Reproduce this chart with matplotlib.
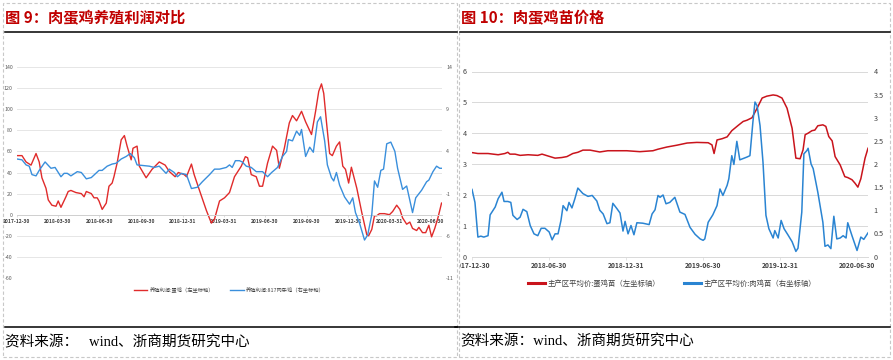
import pandas as pd
import matplotlib
matplotlib.use("Agg")
import matplotlib.pyplot as plt
from matplotlib.lines import Line2D
from matplotlib.patches import Rectangle
from matplotlib.transforms import Bbox

plt.rcParams['font.family'] = ['Noto Sans CJK SC', 'DejaVu Sans']
plt.rcParams['axes.unicode_minus'] = False

# ---- 图9 data: 养殖利润 ----
egg_profit_dates = [
    '2017-12-30', '2018-01-10', '2018-01-19', '2018-01-30', '2018-02-10', '2018-02-17',
    '2018-02-23', '2018-03-04', '2018-03-09', '2018-03-17', '2018-03-26', '2018-03-31',
    '2018-04-06', '2018-04-17', '2018-04-22', '2018-04-28', '2018-05-09', '2018-05-21',
    '2018-05-27', '2018-06-01', '2018-06-12', '2018-06-18', '2018-06-25', '2018-06-29',
    '2018-07-06', '2018-07-15', '2018-07-21', '2018-07-28', '2018-08-01', '2018-08-08',
    '2018-08-17', '2018-08-24', '2018-08-30', '2018-09-08', '2018-09-12', '2018-09-21',
    '2018-09-26', '2018-10-11', '2018-10-24', '2018-11-09', '2018-11-22', '2018-12-01',
    '2018-12-14', '2018-12-21', '2019-01-03', '2019-01-08', '2019-01-19', '2019-01-25',
    '2019-02-05', '2019-02-21', '2019-03-04', '2019-03-11', '2019-03-22', '2019-04-02',
    '2019-04-13', '2019-04-24', '2019-05-09', '2019-05-18', '2019-05-23', '2019-05-31',
    '2019-06-11', '2019-06-18', '2019-06-25', '2019-07-06', '2019-07-17', '2019-07-26',
    '2019-08-01', '2019-08-12', '2019-08-23', '2019-08-30', '2019-09-08', '2019-09-19',
    '2019-09-28', '2019-10-11', '2019-10-20', '2019-10-27', '2019-11-02', '2019-11-07',
    '2019-11-13', '2019-11-20', '2019-11-26', '2019-12-05', '2019-12-12', '2019-12-19',
    '2019-12-25', '2020-01-01', '2020-01-07', '2020-01-19', '2020-01-30', '2020-02-10',
    '2020-02-14', '2020-02-21', '2020-02-27', '2020-03-03', '2020-03-09', '2020-03-20',
    '2020-03-31', '2020-04-07', '2020-04-16', '2020-04-23', '2020-04-29', '2020-05-08',
    '2020-05-15', '2020-05-21', '2020-05-30', '2020-06-04', '2020-06-12', '2020-06-19',
    '2020-06-26', '2020-07-02', '2020-07-09', '2020-07-16', '2020-07-24']
egg_profit = [
    56, 56, 50, 47, 58, 50,
    35, 25, 14, 9, 8, 13,
    7, 17, 22, 23, 21, 20,
    17, 22, 20, 16, 16, 13,
    5, 11, 27, 30, 36, 49,
    71, 75, 65, 52, 63, 65,
    46, 35, 43, 50, 47, 41,
    36, 40, 38, 36, 48, 38,
    24, 4, -8, -4, 13, 16,
    21, 36, 46, 55, 54, 38,
    36, 27, 27, 49, 65, 61,
    44, 63, 87, 94, 89, 98,
    88, 76, 98, 117, 124, 115,
    88, 58, 56, 65, 69, 46,
    43, 30, 45, 25, 2, -19,
    -20, -14, -1, -1, 1, 1,
    0, 3, 9, 5, -3, -9,
    -7, -13, -15, -12, -17, -17,
    -10, -21, -13, -3, 11]

broiler_profit_dates = [
    '2017-12-30', '2018-01-10', '2018-01-19', '2018-01-26', '2018-02-01', '2018-02-10',
    '2018-02-17', '2018-03-02', '2018-03-15', '2018-03-24', '2018-04-06', '2018-04-13',
    '2018-04-20', '2018-04-28', '2018-05-12', '2018-05-21', '2018-06-01', '2018-06-12',
    '2018-06-29', '2018-07-06', '2018-07-17', '2018-07-28', '2018-08-06', '2018-08-17',
    '2018-08-28', '2018-09-06', '2018-09-15', '2018-09-21', '2018-10-18', '2018-10-29',
    '2018-11-09', '2018-11-24', '2018-12-01', '2018-12-12', '2018-12-19', '2018-12-28',
    '2019-01-08', '2019-01-19', '2019-02-01', '2019-02-12', '2019-02-28', '2019-03-11',
    '2019-03-22', '2019-04-06', '2019-04-13', '2019-04-19', '2019-04-26', '2019-05-05',
    '2019-05-11', '2019-05-20', '2019-05-31', '2019-06-11', '2019-06-25', '2019-07-06',
    '2019-07-15', '2019-07-28', '2019-08-08', '2019-08-17', '2019-08-21', '2019-08-30',
    '2019-09-08', '2019-09-15', '2019-09-19', '2019-09-28', '2019-10-07', '2019-10-15',
    '2019-10-24', '2019-10-31', '2019-11-09', '2019-11-15', '2019-11-24', '2019-11-29',
    '2019-12-05', '2019-12-12', '2019-12-23', '2020-01-03', '2020-01-10', '2020-01-16',
    '2020-01-25', '2020-02-05', '2020-02-12', '2020-02-21', '2020-02-27', '2020-03-05',
    '2020-03-12', '2020-03-18', '2020-03-25', '2020-04-03', '2020-04-12', '2020-04-18',
    '2020-04-29', '2020-05-08', '2020-05-21', '2020-05-28', '2020-06-10', '2020-06-21',
    '2020-06-26', '2020-07-05', '2020-07-13', '2020-07-20', '2020-07-24']
broiler_profit = [
    3.1, 3.0, 2.4, 2.25, 1.25, 1.1,
    1.75, 2.75, 2.0, 2.1, 1.0, 1.4,
    1.4, 1.1, 1.6, 1.5, 0.75, 0.9,
    1.75, 1.75, 2.25, 2.5, 2.6, 3.1,
    3.4, 3.75, 3.25, 2.4, 2.25, 2.1,
    2.25, 1.4, 1.9, 1.5, 1.0, 1.4,
    1.25, -0.4, -0.25, 0.4, 1.25, 1.9,
    1.9, 2.1, 2.4, 2.1, 2.9, 2.9,
    2.75, 2.25, 2.1, 1.6, 1.6, 1.0,
    1.5, 2.1, 3.4, 4.0, 5.4, 5.25,
    6.4, 5.9, 6.6, 3.4, 4.5, 3.9,
    7.5, 8.1, 5.25, 2.4, 0.9, 0.5,
    1.5, 0.0, -1.4, -2.25, -1.5, -3.25,
    -4.5, -6.5, -5.9, -3.5, 0.5, -0.25,
    1.75, 1.9, 4.9, 5.1, 4.0, 2.0,
    -0.5, -0.1, -3.25, -1.5, -0.6, 0.4,
    0.6, 1.6, 2.25, 2.0, 2.0]

profit_ticks = ['2017-12-30', '2018-03-30', '2018-06-30', '2018-09-30', '2018-12-31', '2019-03-31',
                '2019-06-30', '2019-09-30', '2019-12-31', '2020-03-31', '2020-06-30']

# ---- 图10 data: 鸡苗价格 ----
layer_chick_dates = [
    '2017-12-30', '2018-01-13', '2018-02-06', '2018-03-02', '2018-03-18', '2018-03-25',
    '2018-03-30', '2018-04-11', '2018-04-23', '2018-05-12', '2018-06-04', '2018-06-14',
    '2018-07-03', '2018-07-15', '2018-07-31', '2018-08-12', '2018-08-26', '2018-09-07',
    '2018-09-19', '2018-10-06', '2018-10-29', '2018-11-17', '2019-01-01', '2019-02-01',
    '2019-03-04', '2019-03-16', '2019-04-06', '2019-04-30', '2019-05-24', '2019-06-16',
    '2019-07-13', '2019-07-22', '2019-07-27', '2019-08-03', '2019-08-15', '2019-08-27',
    '2019-09-07', '2019-09-22', '2019-10-04', '2019-10-13', '2019-10-25', '2019-11-06',
    '2019-11-18', '2019-11-29', '2019-12-14', '2019-12-23', '2020-01-04', '2020-01-16',
    '2020-01-28', '2020-02-06', '2020-02-16', '2020-02-23', '2020-02-28', '2020-03-06',
    '2020-03-15', '2020-03-22', '2020-03-29', '2020-04-10', '2020-04-17', '2020-04-24',
    '2020-05-02', '2020-05-09', '2020-05-21', '2020-06-01', '2020-06-08', '2020-06-18',
    '2020-06-25', '2020-07-02', '2020-07-09', '2020-07-19', '2020-07-26']
layer_chick = [
    3.37, 3.34, 3.34, 3.30, 3.34, 3.38,
    3.32, 3.32, 3.28, 3.30, 3.28, 3.32,
    3.24, 3.19, 3.21, 3.24, 3.34, 3.38,
    3.45, 3.45, 3.39, 3.43, 3.43, 3.40,
    3.43, 3.48, 3.55, 3.61, 3.68, 3.70,
    3.69, 3.62, 3.34, 3.78, 3.82, 3.88,
    4.08, 4.25, 4.38, 4.42, 4.50, 4.81,
    5.14, 5.20, 5.24, 5.22, 5.14, 4.81,
    4.16, 3.19, 3.17, 3.46, 3.95, 4.00,
    4.08, 4.10, 4.24, 4.27, 4.22, 3.89,
    3.75, 3.24, 2.97, 2.59, 2.56, 2.49,
    2.38, 2.25, 2.52, 3.19, 3.51]

broiler_chick_dates = [
    '2017-12-30', '2018-01-06', '2018-01-13', '2018-01-20', '2018-01-27', '2018-02-06',
    '2018-02-11', '2018-02-23', '2018-03-02', '2018-03-11', '2018-03-16', '2018-03-25',
    '2018-04-01', '2018-04-06', '2018-04-16', '2018-04-23', '2018-04-30', '2018-05-09',
    '2018-05-17', '2018-05-26', '2018-06-04', '2018-06-12', '2018-06-21', '2018-07-01',
    '2018-07-08', '2018-07-15', '2018-07-22', '2018-07-29', '2018-08-03', '2018-08-12',
    '2018-08-17', '2018-08-24', '2018-08-31', '2018-09-07', '2018-09-19', '2018-10-01',
    '2018-10-11', '2018-10-22', '2018-10-29', '2018-11-06', '2018-11-15', '2018-11-22',
    '2018-11-29', '2018-12-09', '2018-12-16', '2018-12-23', '2018-12-28', '2019-01-04',
    '2019-01-11', '2019-01-18', '2019-01-25', '2019-02-08', '2019-02-23', '2019-03-02',
    '2019-03-09', '2019-03-16', '2019-03-21', '2019-03-28', '2019-04-04', '2019-04-13',
    '2019-04-25', '2019-05-07', '2019-05-19', '2019-05-31', '2019-06-12', '2019-06-24',
    '2019-07-01', '2019-07-05', '2019-07-13', '2019-07-24', '2019-08-03', '2019-08-10',
    '2019-08-17', '2019-08-27', '2019-08-31', '2019-09-07', '2019-09-12', '2019-09-19',
    '2019-09-26', '2019-10-13', '2019-10-20', '2019-10-27', '2019-11-01', '2019-11-06',
    '2019-11-13', '2019-11-20', '2019-11-27', '2019-12-04', '2019-12-14', '2019-12-18',
    '2019-12-26', '2020-01-02', '2020-01-09', '2020-01-18', '2020-01-28', '2020-02-06',
    '2020-02-11', '2020-02-20', '2020-02-25', '2020-03-03', '2020-03-06', '2020-03-13',
    '2020-03-18', '2020-03-29', '2020-04-10', '2020-04-15', '2020-04-22', '2020-04-29',
    '2020-05-06', '2020-05-13', '2020-05-21', '2020-05-28', '2020-06-04', '2020-06-08',
    '2020-06-18', '2020-06-30', '2020-07-09', '2020-07-16', '2020-07-26']
broiler_chick = [
    1.45, 1.17, 0.42, 0.44, 0.42, 0.45,
    0.90, 1.07, 1.25, 1.39, 1.19, 1.19,
    1.17, 0.89, 0.80, 0.85, 1.02, 0.97,
    0.67, 0.49, 0.45, 0.61, 0.61, 0.53,
    0.36, 0.49, 0.49, 0.78, 1.10, 0.99,
    1.17, 1.05, 1.25, 1.48, 1.36, 1.30,
    1.32, 1.20, 1.00, 0.92, 0.71, 0.73,
    1.15, 1.03, 0.94, 0.55, 0.76, 0.49,
    0.67, 0.47, 0.73, 0.72, 0.69, 0.92,
    1.01, 1.32, 1.28, 1.33, 1.14, 1.17,
    1.28, 0.96, 0.91, 0.63, 0.48, 0.38,
    0.35, 0.38, 0.74, 0.90, 1.10, 1.46,
    1.32, 1.54, 1.68, 2.18, 1.99, 2.49,
    2.09, 2.15, 2.18, 2.90, 3.34, 3.26,
    2.83, 2.04, 0.89, 0.60, 0.40, 0.56,
    0.40, 0.78, 0.60, 0.47, 0.32, 0.11,
    0.18, 0.96, 2.22, 2.29, 2.34, 2.00,
    1.90, 1.39, 0.74, 0.22, 0.25, 0.17,
    0.87, 0.38, 0.40, 0.45, 0.40, 0.73,
    0.45, 0.13, 0.42, 0.37, 0.51]

price_ticks = ['2017-12-30', '2018-06-30', '2018-12-31', '2019-06-30', '2019-12-31', '2020-06-30']

W, H = 893, 360
fig = plt.figure(figsize=(W / 100, H / 100), dpi=100)


def box(x0, y0, x1, y1):
    return [x0 / W, 1 - y1 / H, (x1 - x0) / W, (y1 - y0) / H]


def hline(x0, x1, y, **kw):
    fig.add_artist(Line2D([x0 / W, x1 / W], [1 - y / H, 1 - y / H], transform=fig.transFigure, **kw))


def frame(x0, y0, x1, y1):
    fig.add_artist(Rectangle((x0 / W, 1 - y1 / H), (x1 - x0) / W, (y1 - y0) / H, transform=fig.transFigure,
                             fill=False, ec='#c8c8c8', lw=0.8, ls=(0, (3, 2))))


# panel frames, headers and footers
frame(3, 3, 457, 357)
frame(459, 3, 890, 357)
hline(5, 457, 32, color='black', lw=1.1)
hline(460, 890, 32, color='black', lw=1.1)
hline(5, 457, 327, color='black', lw=1.1)
hline(455, 890, 327, color='black', lw=1.1)
title_font = dict(fontsize=11, fontweight='bold', color='#c00000', va='center', ha='left')
fig.text(5 / W, 1 - 18 / H, '图 9：肉蛋鸡养殖利润对比', **title_font)
fig.text(461 / W, 1 - 18 / H, '图 10：肉蛋鸡苗价格', **title_font)
src_font = dict(fontsize=10.5, va='center', ha='left', family=['Liberation Serif', 'Noto Sans CJK SC'])
fig.text(5 / W, 1 - 342 / H, '资料来源：   wind、浙商期货研究中心', **src_font)
fig.text(460 / W, 1 - 341 / H, '资料来源：wind、浙商期货研究中心', **src_font)

# ---- left chart ----
d1 = pd.to_datetime(egg_profit_dates)
d2 = pd.to_datetime(broiler_profit_dates)
ax = fig.add_axes(box(17, 67, 442, 278))
ax2 = ax.twinx()
ax.plot(d1, egg_profit, color='#e02b2b', lw=1.0, label='养殖利润:蛋鸡（左坐标轴）')
ax2.plot(d2, broiler_profit, color='#3a8fdc', lw=1.0, label='养殖利润:817肉杂鸡（右坐标轴）')
ax.set_ylim(-60, 140)
ax.set_yticks(range(-60, 141, 20))
ax2.set_ylim(-11, 14)
ax2.set_yticks(range(-11, 15, 5))
ax.set_xlim(pd.Timestamp('2017-12-30'), pd.Timestamp('2020-07-25'))
ax.grid(axis='y', color='#e6e6e6', lw=0.7)
ax.set_axisbelow(True)
for s in ['top', 'right', 'left']:
    ax.spines[s].set_visible(False)
    ax2.spines[s].set_visible(False)
ax2.spines['bottom'].set_visible(False)
ax.spines['bottom'].set_position(('data', 0))
ax.spines['bottom'].set_color('#d0d0d0')
ax.spines['bottom'].set_linewidth(0.7)
ax.set_xticks(pd.to_datetime(profit_ticks))
ax.set_xticklabels(profit_ticks, fontsize=3.6, fontweight='bold', color='#404040')
ax.tick_params(axis='x', length=1.5, width=0.5, color='#d0d0d0', pad=1.5)
ax.tick_params(axis='y', length=0, labelsize=3.8, labelcolor='#595959', pad=3)
ax2.tick_params(axis='y', length=0, labelsize=3.8, labelcolor='#595959', pad=3)
h1, l1 = ax.get_legend_handles_labels()
h2, l2 = ax2.get_legend_handles_labels()
fig.legend(h1 + h2, l1 + l2, loc='center', bbox_to_anchor=(229 / W, 1 - 290 / H), ncol=2,
           frameon=False, fontsize=3.8, handlelength=2.6, handletextpad=0.4, columnspacing=3.0,
           labelcolor='#404040')

# ---- right chart ----
d3 = pd.to_datetime(layer_chick_dates)
d4 = pd.to_datetime(broiler_chick_dates)
bx = fig.add_axes(box(472, 71.5, 868, 256.5))
bx2 = bx.twinx()
bx.plot(d3, layer_chick, color='#c9141c', lw=1.1, label='主产区平均价:蛋鸡苗（左坐标轴）')
bx2.plot(d4, broiler_chick, color='#2a84d2', lw=1.1, label='主产区平均价:肉鸡苗（右坐标轴）')
bx.set_ylim(0, 6)
bx.set_yticks(range(0, 7))
bx2.set_ylim(0, 4)
bx2.set_yticks([0, 0.5, 1, 1.5, 2, 2.5, 3, 3.5, 4])
bx2.set_yticklabels(['0', '0.5', '1', '1.5', '2', '2.5', '3', '3.5', '4'])
bx.set_xlim(pd.Timestamp('2017-12-30'), pd.Timestamp('2020-07-26'))
bx.grid(axis='y', color='#d9d9d9', lw=0.7)
bx.set_axisbelow(True)
for s in ['top', 'right', 'left']:
    bx.spines[s].set_visible(False)
    bx2.spines[s].set_visible(False)
bx2.spines['bottom'].set_visible(False)
bx.spines['bottom'].set_color('#d9d9d9')
bx.spines['bottom'].set_linewidth(0.7)
bx.set_xticks(pd.to_datetime(price_ticks))
labels = bx.set_xticklabels(price_ticks, fontsize=4.8, fontweight='semibold', color='#404040')
# the first date label is cut off by the panel edge in the original
labels[0].set_clip_box(Bbox.from_extents(459.5, 0, W, H))
labels[0].set_clip_on(True)
bx.tick_params(axis='x', length=2, width=0.5, color='#d9d9d9', pad=2)
bx.tick_params(axis='y', length=0, labelsize=5.2, labelcolor='#404040', pad=4)
bx2.tick_params(axis='y', length=0, labelsize=5.2, labelcolor='#404040', pad=4)
h3, l3 = bx.get_legend_handles_labels()
h4, l4 = bx2.get_legend_handles_labels()
leg = fig.legend(h3 + h4, l3 + l4, loc='center', bbox_to_anchor=(672 / W, 1 - 284 / H), ncol=2,
                 frameon=False, fontsize=5.3, handlelength=2.4, handletextpad=0.3, columnspacing=3.2,
                 labelcolor='#404040')
for line in leg.get_lines():
    line.set_linewidth(2.2)

fig.savefig('out.png', dpi=100)
